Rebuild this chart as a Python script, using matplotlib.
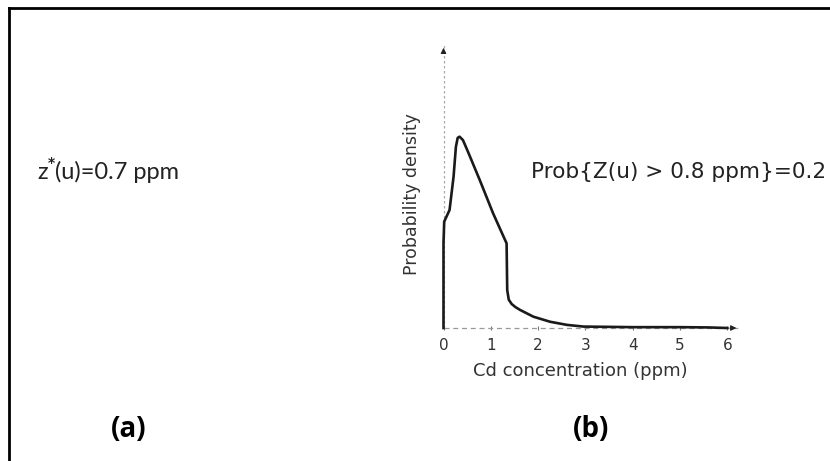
import matplotlib
matplotlib.use("Agg")
import matplotlib.pyplot as plt
from matplotlib.lines import Line2D

W, H = 830, 461

# curve (Cd in ppm, density scaled so the arrow top = 1)
cd_ppm = [0.0, 0.0, 0.015, 0.128, 0.213, 0.262, 0.300, 0.340, 0.411, 0.517,
          0.766, 1.049, 1.334, 1.347, 1.380, 1.440, 1.520, 1.617, 1.900,
          2.255, 2.610, 2.960, 3.500, 4.000, 4.500, 5.000, 5.600, 6.000]
density = [0.0, 0.30, 0.376, 0.417, 0.535, 0.640, 0.672, 0.676, 0.664, 0.623,
           0.523, 0.405, 0.299, 0.134, 0.100, 0.085, 0.074, 0.064, 0.040,
           0.022, 0.011, 0.005, 0.004, 0.003, 0.003, 0.003, 0.002, 0.0]
tick_vals = [0, 1, 2, 3, 4, 5, 6]

estimate_parts = ["z", "*", "(u)=0.7 ppm"]
prob_text = "Prob{Z(u) > 0.8 ppm}=0.2"
panel_labels = ["(a)", "(b)"]


def px(x, y):
    # figure pixel position -> figure fraction
    return x / W, 1 - y / H


fig = plt.figure(figsize=(W / 100, H / 100), dpi=100)
fig.patch.set_facecolor("white")

# border (top and left only, rest is cut off)
x0, y0 = px(9, 8)
fig.add_artist(Line2D([x0, x0], [0, y0], color="black", lw=2))
fig.add_artist(Line2D([x0, 1], [y0, y0], color="black", lw=2))

# pdf plot
ax_left, ax_bottom = px(443.5, 328)
ax_w = 6.25 * 47.3 / W
ax_h = 283 / H
ax = fig.add_axes([ax_left, ax_bottom, ax_w, ax_h])
ax.set_xlim(0, 6.25)
ax.set_ylim(0, 1.0)
for s in ax.spines.values():
    s.set_visible(False)
ax.set_yticks([])
ax.set_xticks(tick_vals)
ax.set_xticklabels([str(v) for v in tick_vals], fontsize=11, color="#333333",
                   family="DejaVu Sans")
ax.tick_params(axis="x", direction="inout", length=3, width=0.8,
               color="#777777", pad=6)

# axis lines with arrows
ax.plot([0, 1], [0, 0], transform=ax.transAxes, color="#999999", lw=0.9,
        ls=(0, (4, 3)), clip_on=False)
ax.plot([0, 0], [0, 1], transform=ax.transAxes, color="#aaaaaa", lw=0.9,
        ls=(0, (2, 2)), clip_on=False)
ax.annotate("", xy=(0, 1.0), xytext=(0, 0.97), xycoords="axes fraction",
            arrowprops=dict(arrowstyle="-|>", color="#222222", lw=0.8,
                            mutation_scale=8))
ax.annotate("", xy=(1.0, 0), xytext=(0.96, 0), xycoords="axes fraction",
            arrowprops=dict(arrowstyle="-|>", color="#222222", lw=0.8,
                            mutation_scale=8))

ax.plot(cd_ppm, density, color="#1a1a1a", lw=1.9, solid_joinstyle="round",
        clip_on=False)

ax.set_xlabel("Cd concentration (ppm)", fontsize=13, family="DejaVu Sans",
              color="#333333")
ax.xaxis.set_label_coords((580 - 443.5) / (6.25 * 47.3), -(362 - 328) / 283)
ax.set_ylabel("Probability density", fontsize=12.5, family="DejaVu Sans",
              color="#333333")
ax.yaxis.set_label_coords(-(443.5 - 421) / (6.25 * 47.3), (328 - 194) / 283)

fig.text(*px(531, 172), prob_text, fontsize=15.6, family="DejaVu Sans",
         color="#222222", ha="left", va="center")

# z*(u) text, built in pieces so the star sits as a superscript
fig.canvas.draw()
renderer = fig.canvas.get_renderer()
xcur = 37
t = fig.text(*px(xcur, 172), estimate_parts[0], fontsize=17,
             family="Lato", color="#222222", ha="left", va="center")
xcur += t.get_window_extent(renderer).width + 0.5
t = fig.text(*px(xcur, 163), estimate_parts[1], fontsize=10,
             family="DejaVu Sans", weight="bold", color="#222222",
             ha="left", va="center")
xcur += t.get_window_extent(renderer).width - 0.5
fig.text(*px(xcur, 172), estimate_parts[2], fontsize=17, family="Lato",
         color="#222222", ha="left", va="center")

fig.text(*px(129, 429), panel_labels[0], fontsize=20, family="Open Sans",
         weight="bold", color="black", ha="center", va="center")
fig.text(*px(591, 429), panel_labels[1], fontsize=20, family="Open Sans",
         weight="bold", color="black", ha="center", va="center")

fig.savefig("out.png", dpi=100, facecolor="white")
